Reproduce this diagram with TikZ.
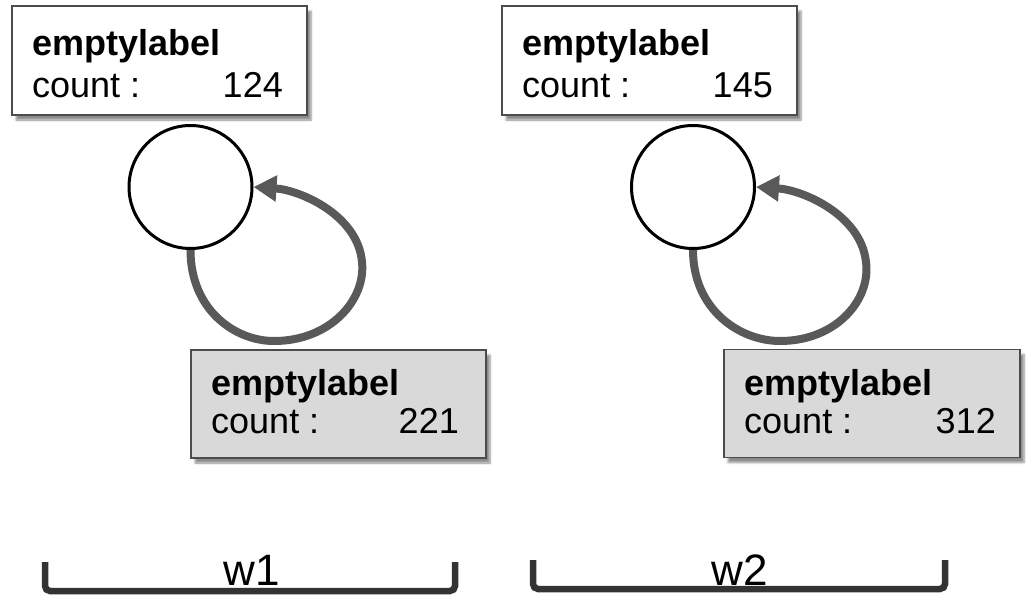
\documentclass[tikz,border=0pt]{standalone}
\usepackage{fontspec}
\setmainfont{Liberation Sans}
\usetikzlibrary{shadows,shadows.blur,arrows.meta}
\begin{document}
\begin{tikzpicture}[x=1pt,y=-1pt,
  txt/.style={inner sep=0pt,font=\fontsize{36}{42}\selectfont},
  ttl/.style={txt,font=\fontsize{36}{42}\selectfont\bfseries,anchor=base west},
  lbl/.style={txt,anchor=base west},
  num/.style={txt,anchor=base east},
  countbox/.style={draw=black!70,line width=1.2pt,inner sep=0pt,
    blur shadow={shadow xshift=4pt,shadow yshift=-5pt,shadow blur steps=6,shadow opacity=45}},
  whitebox/.style={countbox,fill=white},
  greybox/.style={countbox,fill=black!15},
  state/.style={circle,draw=black,line width=3pt,fill=white,minimum size=123pt,inner sep=0pt},
  loop/.style={draw=black!65,line width=8pt,-{Triangle[length=23pt,width=25pt]}},
  brace/.style={draw=black!80,line width=6.5pt,rounded corners=5pt},
  wlabel/.style={inner sep=0pt,font=\fontsize{44}{50}\selectfont,anchor=base}]
\useasboundingbox (0,0) rectangle (1028,597);

% left column
\node[whitebox,minimum width=295pt,minimum height=109pt] (b1) at (159.5,60.5) {};
\node[ttl] (b1t) at (32,55) {emptylabel};
\node[lbl] (b1c) at (32,97) {count :};
\node[num] (b1n) at (283,97) {124};

\node[state] (s1) at (190.5,187) {};
\draw[loop] (s1.south) .. controls +(0,60) and (235,341) .. (274,341)
  .. controls (330,341) and (366,300) .. (362,262)
  .. controls (358,215) and (300,190) .. (s1.east);

\node[greybox,minimum width=295pt,minimum height=108pt] (g1) at (338.5,404) {};
\node[ttl] (g1t) at (211,395) {emptylabel};
\node[lbl] (g1c) at (211,433) {count :};
\node[num] (g1n) at (459,433) {221};

% right column
\node[whitebox,minimum width=295pt,minimum height=109pt] (b2) at (649.5,60.5) {};
\node[ttl] (b2t) at (522,55) {emptylabel};
\node[lbl] (b2c) at (522,97) {count :};
\node[num] (b2n) at (773,97) {145};

\node[state] (s2) at (693,187) {};
\draw[loop] (s2.south) .. controls +(0,60) and (740,341) .. (780,341)
  .. controls (836,341) and (871,300) .. (866,262)
  .. controls (861,215) and (803,190) .. (s2.east);

\node[greybox,minimum width=296pt,minimum height=108pt] (g2) at (872,403.5) {};
\node[ttl] (g2t) at (744,395) {emptylabel};
\node[lbl] (g2c) at (744,433) {count :};
\node[num] (g2n) at (996,433) {312};

% window brackets
\coordinate (w1a) at (45,562);
\coordinate (w1b) at (455,562);
\draw[brace] (w1a) -- (45,591) -- (455,591) -- (w1b);
\node[wlabel] (w1) at (252,585) {w1};

\coordinate (w2a) at (533,560);
\coordinate (w2b) at (945,560);
\draw[brace] (w2a) -- (533,589) -- (945,589) -- (w2b);
\node[wlabel] (w2) at (740,585) {w2};
\end{tikzpicture}
\end{document}
